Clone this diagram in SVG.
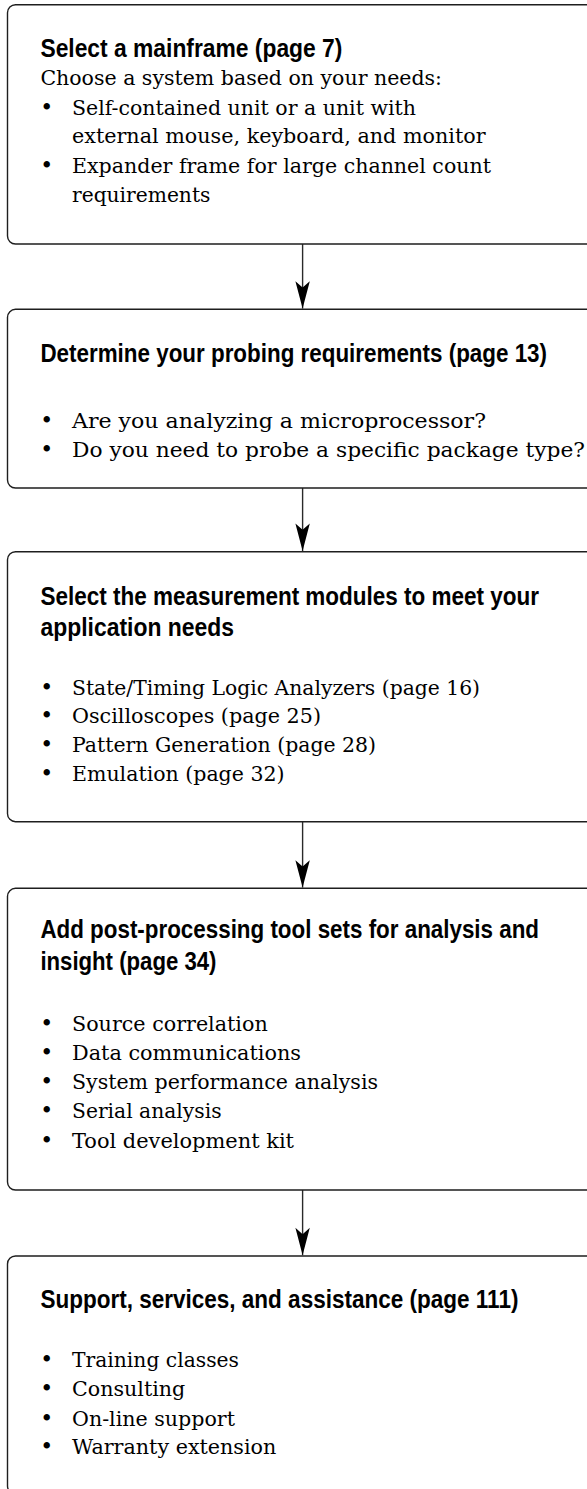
<svg xmlns="http://www.w3.org/2000/svg" width="587" height="1489" viewBox="0 0 587 1489">
<style>
.box{fill:#ffffff;stroke:#1e1e1e;stroke-width:1.4}
.t{font-family:"Liberation Sans Narrow","Liberation Sans",Arial,sans-serif;font-weight:bold;font-size:25px;fill:#000}
.b{font-family:"DejaVu Serif","Liberation Serif",serif;font-size:20px;fill:#000}
.d{font-family:"DejaVu Serif","Liberation Serif",serif;font-size:22px;fill:#000;text-anchor:middle}
.c{stroke:#2a2a2a;stroke-width:1.4;fill:none}
</style>
<defs>
<marker id="ah" markerUnits="userSpaceOnUse" markerWidth="30" markerHeight="16" viewBox="-25 -7 26 14" refX="0" refY="0" orient="auto">
<path d="M0,0 L-24,-6.3 L-18.5,0 L-24,6.3 Z" fill="#000"/>
</marker>
</defs>
<g id="connectors">
<line class="c" x1="302.6" y1="244" x2="302.6" y2="308.6" marker-end="url(#ah)"/>
<line class="c" x1="302.6" y1="488" x2="302.6" y2="551" marker-end="url(#ah)"/>
<line class="c" x1="302.6" y1="821.7" x2="302.6" y2="887.6" marker-end="url(#ah)"/>
<line class="c" x1="302.6" y1="1190" x2="302.6" y2="1255.3" marker-end="url(#ah)"/>
</g>
<g id="node1">
<rect class="box" x="7.5" y="4.7" width="600" height="239.3" rx="8"/>
<text class="t" transform="translate(40.4 56.7) scale(0.8 1)" x="0" y="0" textLength="377.5" lengthAdjust="spacingAndGlyphs">Select a mainframe (page 7)</text>
<text class="b" x="40.4" y="85" textLength="401.6" lengthAdjust="spacingAndGlyphs">Choose a system based on your needs:</text>
<text class="d" x="46.8" y="115">•</text>
<text class="b" x="72" y="115" textLength="344" lengthAdjust="spacingAndGlyphs">Self-contained unit or a unit with</text>
<text class="b" x="72" y="143.3" textLength="413.6" lengthAdjust="spacingAndGlyphs">external mouse, keyboard, and monitor</text>
<text class="d" x="46.8" y="173">•</text>
<text class="b" x="72" y="173" textLength="419" lengthAdjust="spacingAndGlyphs">Expander frame for large channel count</text>
<text class="b" x="72" y="201.7" textLength="138.4" lengthAdjust="spacingAndGlyphs">requirements</text>
</g>
<g id="node2">
<rect class="box" x="7.5" y="309.3" width="600" height="178.7" rx="8"/>
<text class="t" transform="translate(40.4 361.7) scale(0.8 1)" x="0" y="0" textLength="633.3" lengthAdjust="spacingAndGlyphs">Determine your probing requirements (page 13)</text>
<text class="d" x="46.8" y="428.3">•</text>
<text class="b" x="72" y="428.3" textLength="414" lengthAdjust="spacingAndGlyphs">Are you analyzing a microprocessor?</text>
<text class="d" x="46.8" y="456.7">•</text>
<text class="b" x="72" y="456.7" textLength="513" lengthAdjust="spacingAndGlyphs">Do you need to probe a specific package type?</text>
</g>
<g id="node3">
<rect class="box" x="7.5" y="551.7" width="600" height="270" rx="8"/>
<text class="t" transform="translate(40.4 605) scale(0.8 1)" x="0" y="0" textLength="623.3" lengthAdjust="spacingAndGlyphs">Select the measurement modules to meet your</text>
<text class="t" transform="translate(40.4 636) scale(0.8 1)" x="0" y="0" textLength="242" lengthAdjust="spacingAndGlyphs">application needs</text>
<text class="d" x="46.8" y="695">•</text>
<text class="b" x="72" y="695" textLength="408" lengthAdjust="spacingAndGlyphs">State/Timing Logic Analyzers (page 16)</text>
<text class="d" x="46.8" y="723.3">•</text>
<text class="b" x="72" y="723.3" textLength="249" lengthAdjust="spacingAndGlyphs">Oscilloscopes (page 25)</text>
<text class="d" x="46.8" y="751.7">•</text>
<text class="b" x="72" y="751.7" textLength="304" lengthAdjust="spacingAndGlyphs">Pattern Generation (page 28)</text>
<text class="d" x="46.8" y="781">•</text>
<text class="b" x="72" y="781" textLength="212.5" lengthAdjust="spacingAndGlyphs">Emulation (page 32)</text>
</g>
<g id="node4">
<rect class="box" x="7.5" y="888.3" width="600" height="301.7" rx="8"/>
<text class="t" transform="translate(40.4 938.3) scale(0.8 1)" x="0" y="0" textLength="623.3" lengthAdjust="spacingAndGlyphs">Add post-processing tool sets for analysis and</text>
<text class="t" transform="translate(40.4 970) scale(0.8 1)" x="0" y="0" textLength="220" lengthAdjust="spacingAndGlyphs">insight (page 34)</text>
<text class="d" x="46.8" y="1030.7">•</text>
<text class="b" x="72" y="1030.7" textLength="195.7" lengthAdjust="spacingAndGlyphs">Source correlation</text>
<text class="d" x="46.8" y="1060">•</text>
<text class="b" x="72" y="1060" textLength="229" lengthAdjust="spacingAndGlyphs">Data communications</text>
<text class="d" x="46.8" y="1089.3">•</text>
<text class="b" x="72" y="1089.3" textLength="306" lengthAdjust="spacingAndGlyphs">System performance analysis</text>
<text class="d" x="46.8" y="1118.3">•</text>
<text class="b" x="72" y="1118.3" textLength="149.6" lengthAdjust="spacingAndGlyphs">Serial analysis</text>
<text class="d" x="46.8" y="1148">•</text>
<text class="b" x="72" y="1148" textLength="222" lengthAdjust="spacingAndGlyphs">Tool development kit</text>
</g>
<g id="node5">
<rect class="box" x="7.5" y="1256" width="600" height="238" rx="8"/>
<text class="t" transform="translate(40.4 1308.3) scale(0.8 1)" x="0" y="0" textLength="597.5" lengthAdjust="spacingAndGlyphs">Support, services, and assistance (page 111)</text>
<text class="d" x="46.8" y="1366.7">•</text>
<text class="b" x="72" y="1366.7" textLength="167" lengthAdjust="spacingAndGlyphs">Training classes</text>
<text class="d" x="46.8" y="1396">•</text>
<text class="b" x="72" y="1396" textLength="113.3" lengthAdjust="spacingAndGlyphs">Consulting</text>
<text class="d" x="46.8" y="1425.5">•</text>
<text class="b" x="72" y="1425.5" textLength="163" lengthAdjust="spacingAndGlyphs">On-line support</text>
<text class="d" x="46.8" y="1454">•</text>
<text class="b" x="72" y="1454" textLength="204.3" lengthAdjust="spacingAndGlyphs">Warranty extension</text>
</g>
</svg>
